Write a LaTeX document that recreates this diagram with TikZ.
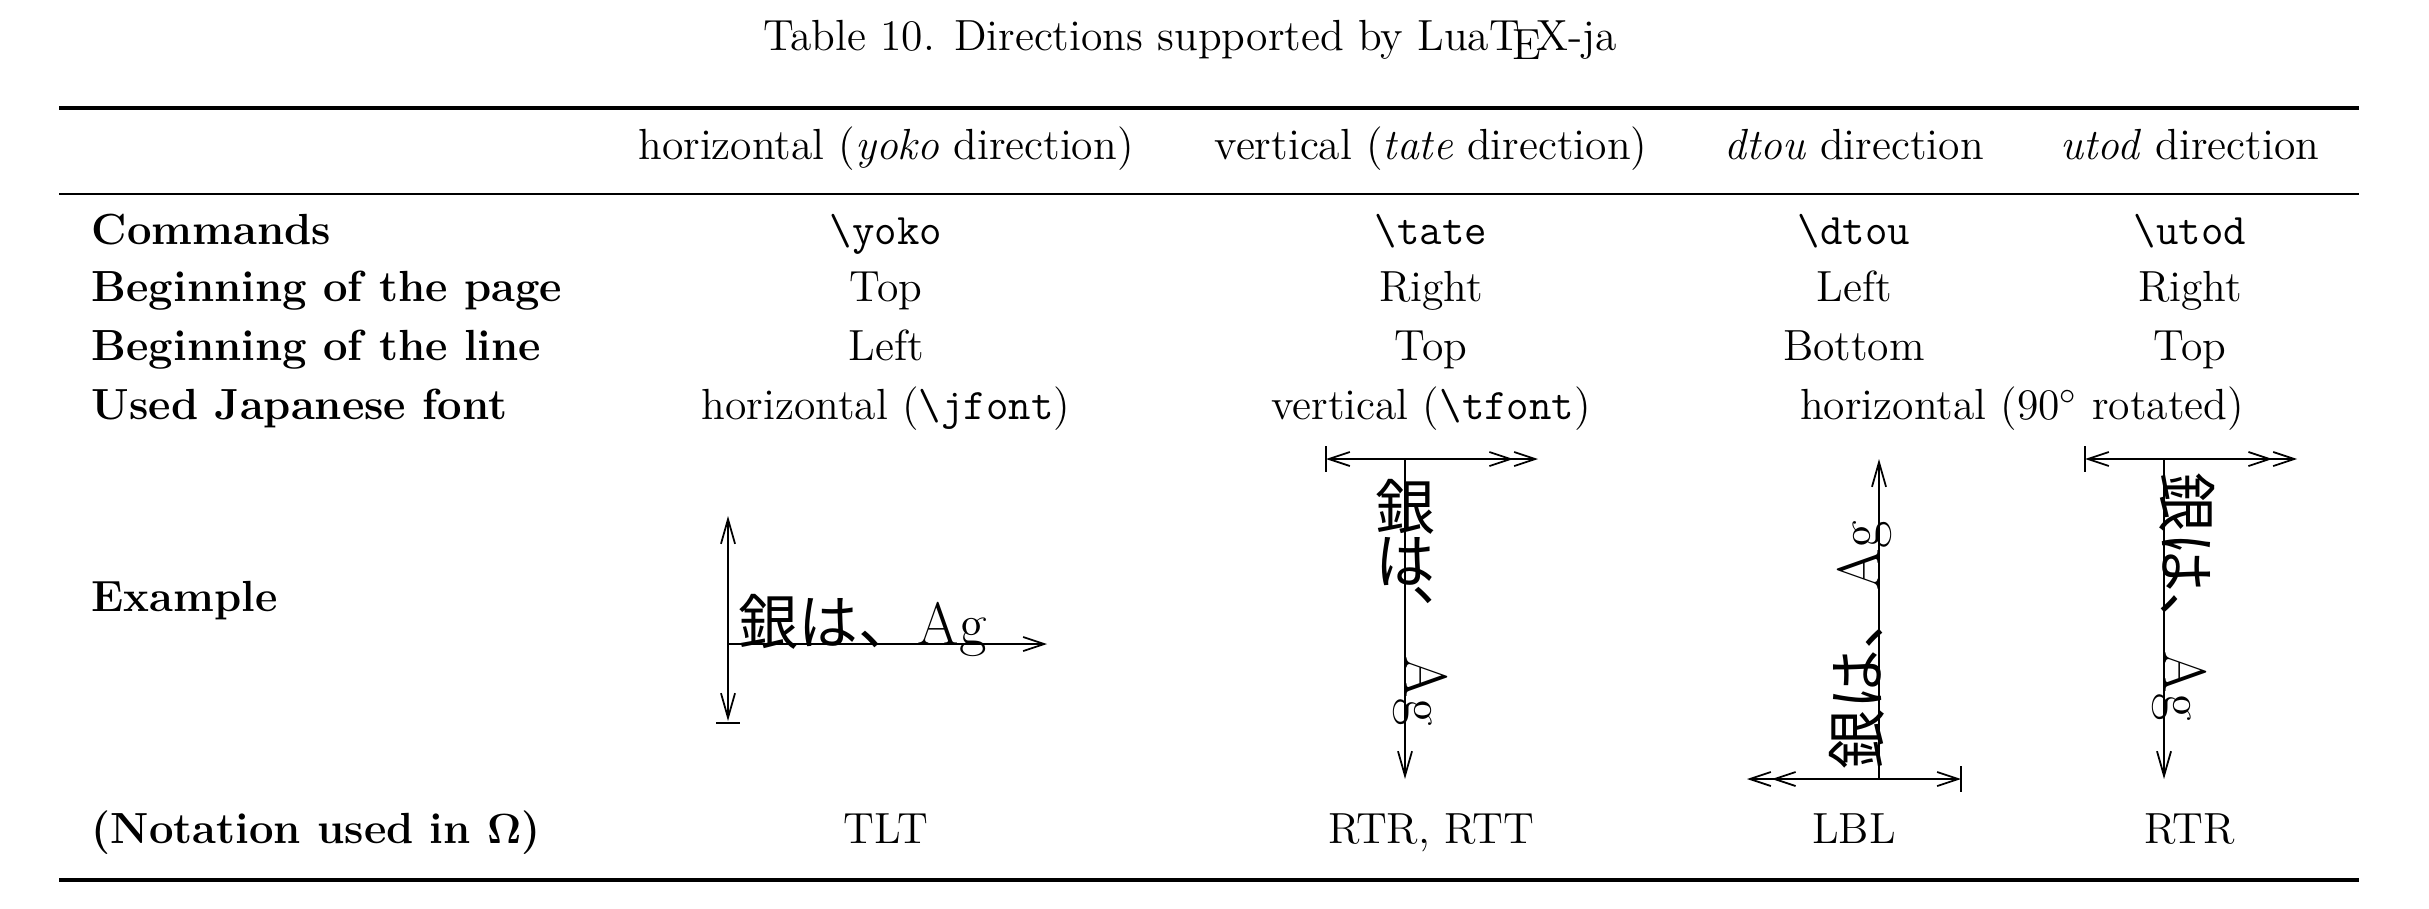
\documentclass[tikz,border=0pt]{standalone}
\usepackage[no-math]{fontspec}
\newfontfamily\jpfont{Noto Sans CJK JP}
\usetikzlibrary{arrows.meta}
\begin{document}
\begin{tikzpicture}[x=0.1mm,y=-0.1mm,
  every node/.style={inner sep=0pt,font=\fontsize{12.4}{14}\selectfont},
  cell/.style={anchor=mid},
  lcell/.style={anchor=mid west,font=\fontsize{12.4}{14}\selectfont\bfseries},
  ln/.style={line width=0.5pt},
  ex/.style={font=\fontsize{17}{17}\selectfont},
  vtip/.tip={Straight Barb[length=7pt,width=4pt]},
  htip/.tip={Straight Barb[length=6pt,width=4pt]},
  dtip/.tip={Straight Barb[length=6pt,width=4pt]Straight Barb[length=6pt,width=4pt]}]
\useasboundingbox (0,0) rectangle (2429,908);
\node[cell] (title) at (1190,43) {Table 10. Directions supported by Lua\TeX-ja};
\draw[line width=1.1pt] (59,108) coordinate (t1) -- (2359,108) coordinate (t2);
\draw[line width=0.6pt] (59,194) coordinate (m1) -- (2359,194) coordinate (m2);
\draw[line width=1.1pt] (59,880) coordinate (b1) -- (2359,880) coordinate (b2);
% header
\node[cell] (h2) at (886,152) {horizontal (\textit{yoko} direction)};
\node[cell] (h3) at (1431,152) {vertical (\textit{tate} direction)};
\node[cell] (h4) at (1854,152) {\textit{dtou} direction};
\node[cell] (h5) at (2190,152) {\textit{utod} direction};
% labels
\node[lcell] (l1) at (91,237) {Commands};
\node[lcell] (l2) at (91,294) {Beginning of the page};
\node[lcell] (l3) at (91,353) {Beginning of the line};
\node[lcell] (l4) at (91,412) {Used Japanese font};
\node[lcell] (l5) at (91,604) {Example};
\node[lcell] (l6) at (91,836) {(Notation used in $\mathbf{\Omega}$)};
% rows
\node[cell] (c12) at (886,237) {\texttt{\string\yoko}};
\node[cell] (c13) at (1431,237) {\texttt{\string\tate}};
\node[cell] (c14) at (1854,237) {\texttt{\string\dtou}};
\node[cell] (c15) at (2190,237) {\texttt{\string\utod}};
\node[cell] (c22) at (886,294) {Top};
\node[cell] (c23) at (1431,294) {Right};
\node[cell] (c24) at (1854,294) {Left};
\node[cell] (c25) at (2190,294) {Right};
\node[cell] (c32) at (886,353) {Left};
\node[cell] (c33) at (1431,353) {Top};
\node[cell] (c34) at (1854,353) {Bottom};
\node[cell] (c35) at (2190,353) {Top};
\node[cell] (c42) at (886,412) {horizontal (\texttt{\string\jfont})};
\node[cell] (c43) at (1431,412) {vertical (\texttt{\string\tfont})};
\node[cell] (c44) at (2022,412) {horizontal (90$^\circ$ rotated)};
\node[cell] (c62) at (886,836) {TLT};
\node[cell] (c63) at (1431,836) {RTR, RTT};
\node[cell] (c64) at (1854,836) {LBL};
\node[cell] (c65) at (2190,836) {RTR};
% yoko example
\draw[ln,{vtip}-{vtip}] (728,516) -- (728,721);
\draw[ln] (716,723) -- (740,723);
\draw[ln,-{htip}] (728,644) -- (1047,644);
\node[ex,anchor=base west] (ey) at (738,644) {{\jpfont 銀は、}Ag};
% tate example
\draw[ln,{htip}-{dtip}] (1326,459) -- (1538,459);
\draw[ln] (1326,446) -- (1326,472);
\draw[ln,-{vtip}] (1405,459) -- (1405,779);
\node[ex,anchor=center] (et1) at (1405,507) {\jpfont 銀};
\node[ex,anchor=center] (et2) at (1405,562) {\jpfont は};
\node[ex,anchor=center] (et3) at (1405,612) {\jpfont ︑};
\node[ex,anchor=base west,rotate=-90] (et4) at (1405,656) {Ag};
% dtou example
\draw[ln,-{vtip}] (1879,779) -- (1879,459);
\draw[ln,{dtip}-{htip}] (1747,779) -- (1961,779);
\draw[ln] (1961,766) -- (1961,792);
\node[ex,anchor=base west,rotate=90] (ed) at (1879,770) {{\jpfont 銀は、}Ag};
% utod example
\draw[ln,{htip}-{dtip}] (2085,459) -- (2297,459);
\draw[ln] (2085,446) -- (2085,472);
\draw[ln,-{vtip}] (2164,459) -- (2164,779);
\node[ex,anchor=base west,rotate=-90] (eu) at (2164,472) {{\jpfont 銀は、}Ag};
\end{tikzpicture}
\end{document}
